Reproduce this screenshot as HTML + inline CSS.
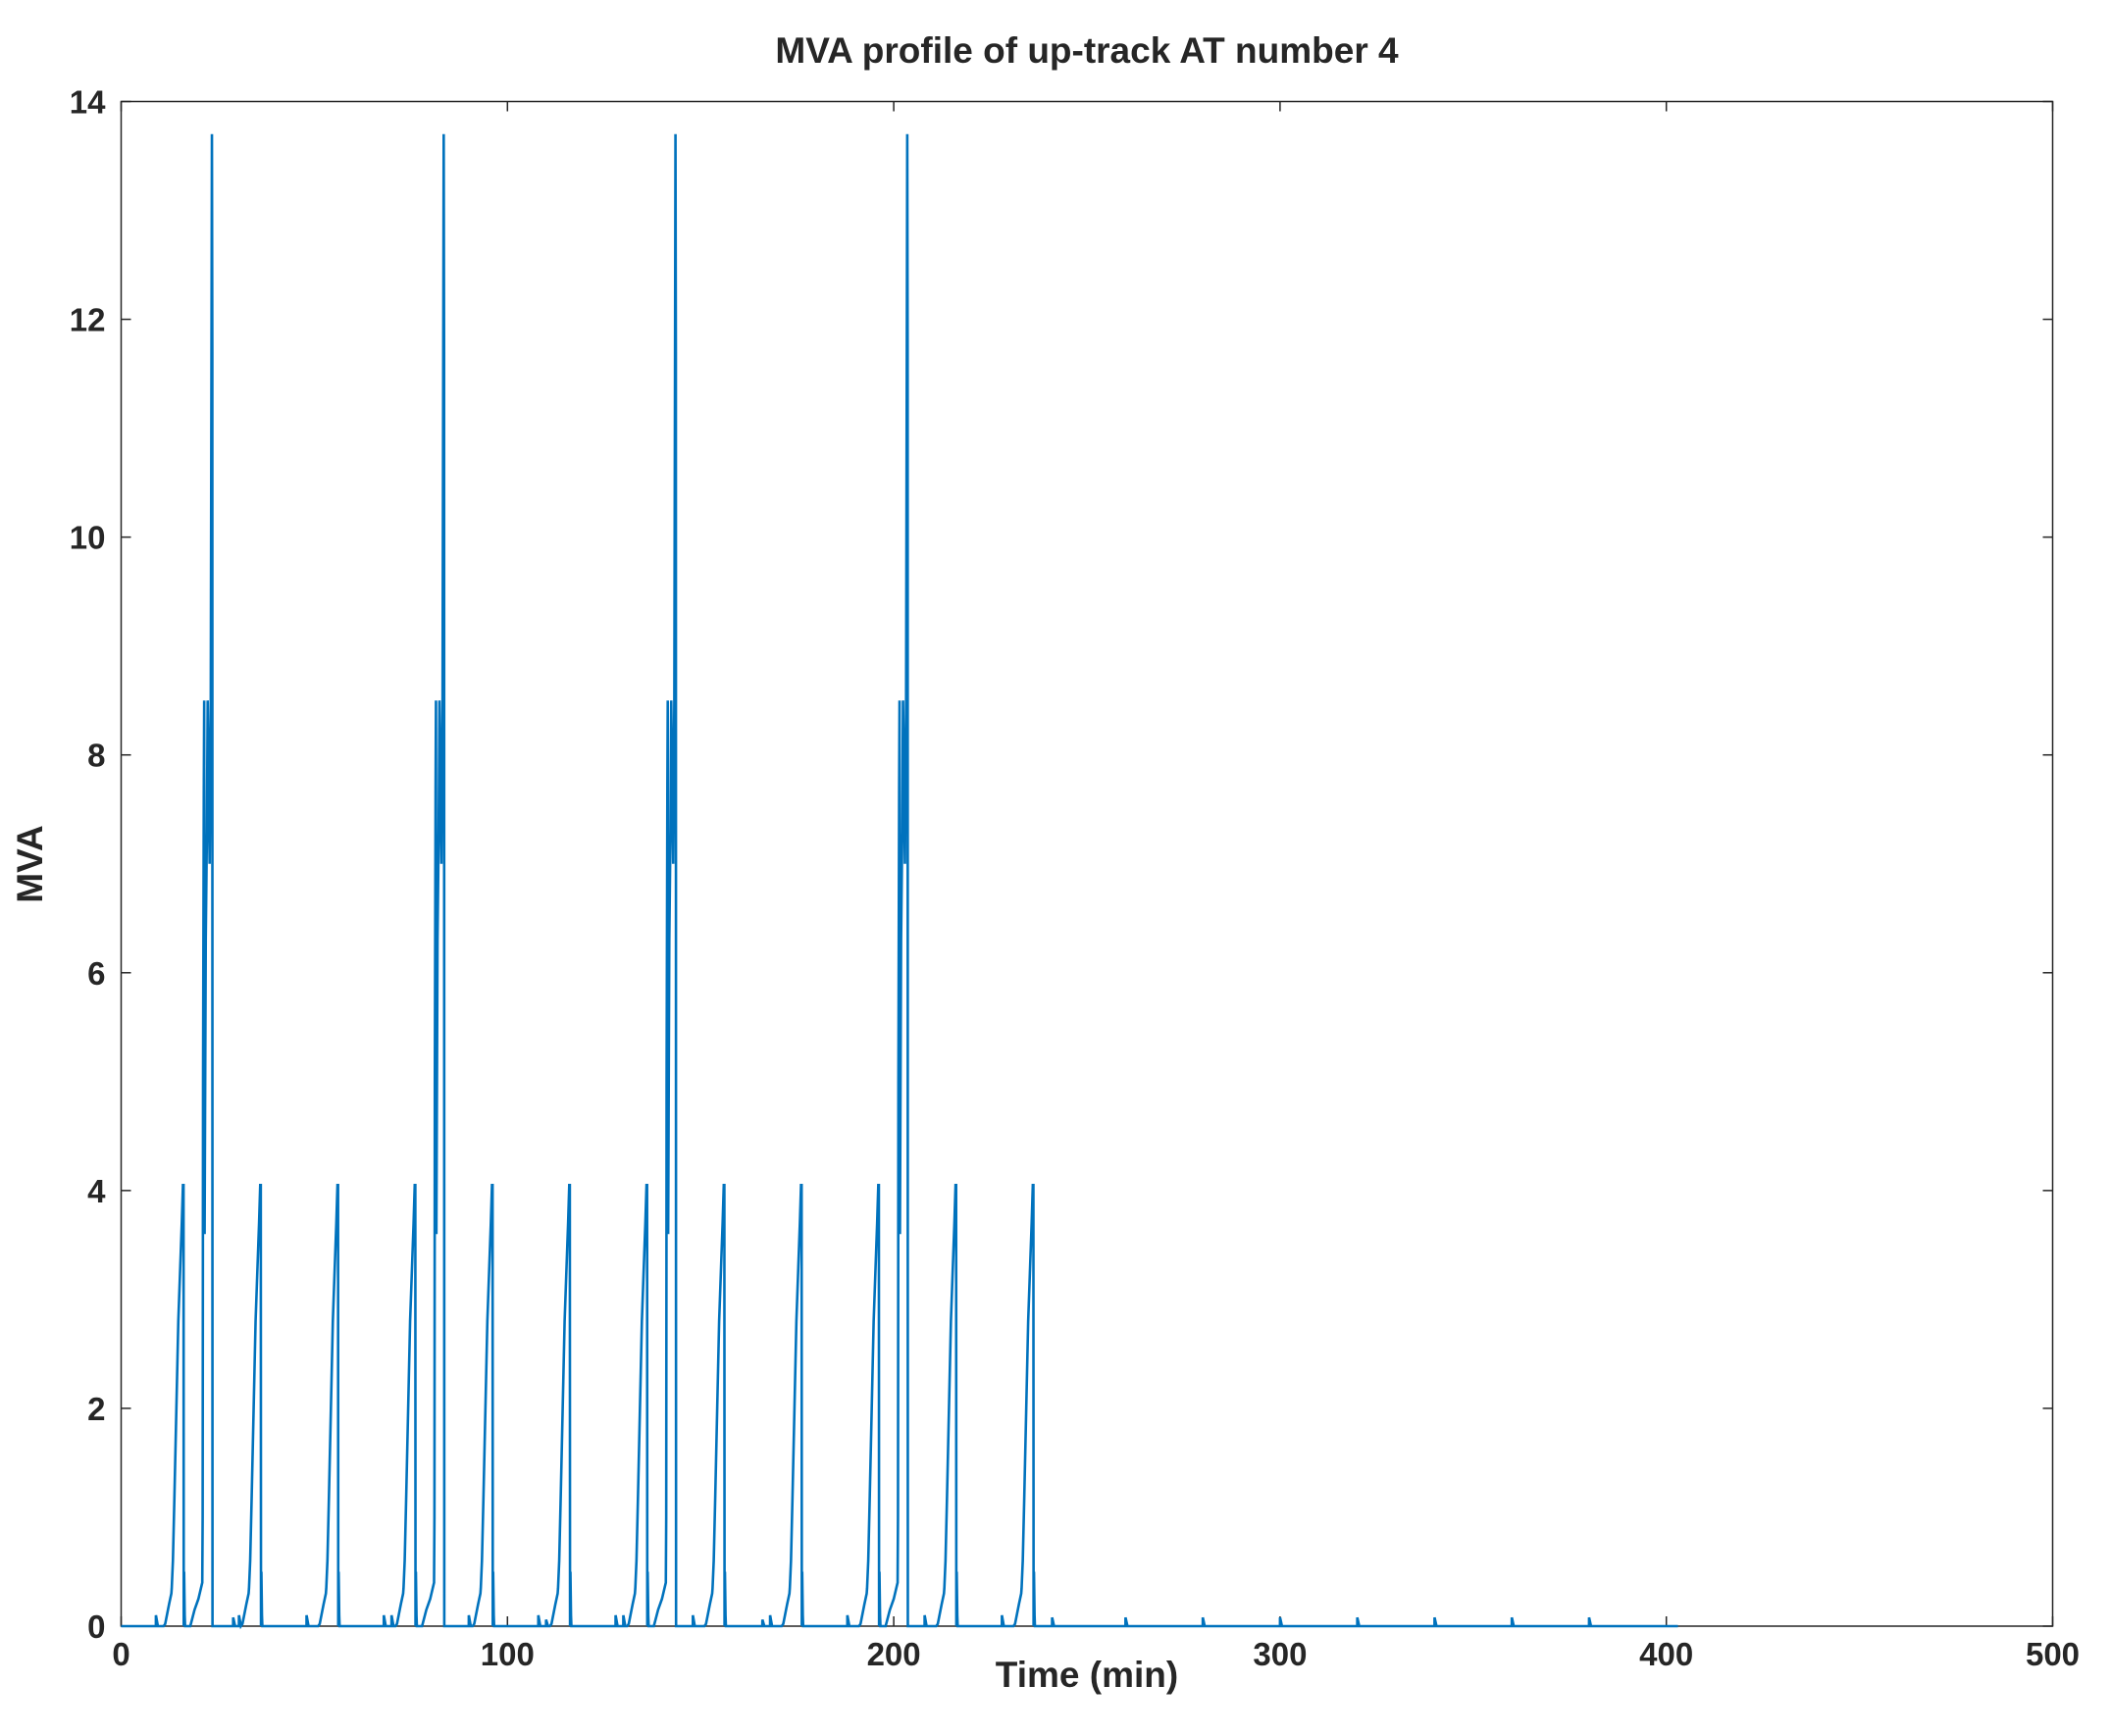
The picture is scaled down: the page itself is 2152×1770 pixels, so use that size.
<!DOCTYPE html>
<html><head><meta charset="utf-8"><style>
html,body{margin:0;padding:0;background:#fff;}
svg text{font-family:"Liberation Sans",Arial,sans-serif;font-weight:bold;fill:#262626;}
</style></head><body>
<svg id="chart" width="2152" height="1765" viewBox="0 0 2152 1765" xmlns="http://www.w3.org/2000/svg">
<rect width="2152" height="1765" fill="#fff"/>
<text x="1108" y="64" font-size="37" text-anchor="middle">MVA profile of up-track AT number 4</text>
<g id="axes"></g>
<g id="plot"></g>
<text x="1108" y="1720" font-size="37" text-anchor="middle">Time (min)</text>
<text transform="translate(43,881) rotate(-90)" font-size="37" text-anchor="middle">MVA</text>
</svg>
<script>
// ---- data ----
const xTicks = [0,100,200,300,400,500];
const yTicks = [0,2,4,6,8,10,12,14];
const rampPeakTimes = [16,36,56,76,96,116,136,156,176,196,216,236];
const rampPeakValues = [4.05,4.05,4.05,4.05,4.05,4.05,4.05,4.05,4.05,4.05,4.05,4.05];
const rampShapeDt = [-5,-4.6,-3.6,-3.0,-2.9,-2.6,-2.2,-1.7,-1.2,-0.7,-0.3,0,0.15,0.2,0.3,0.45,0.55];
const rampShapeV  = [0,0.02,0.2,0.3,0.35,0.6,1.2,2.0,2.8,3.3,3.7,4.05,4.05,0,0.5,0.1,0];
const bigPeakTimes = [23.5,83.5,143.5,203.5];
const bigPeakValues = [13.7,13.7,13.7,13.7];
const bigShapeDt = [-5.6,-4.5,-3.5,-2.5,-2.4,-2.3,-2.1,-2.0,-1.9,-1.6,-1.3,-1.1,-0.6,-0.3,0,0.1,0.15];
const bigShapeV  = [0,0.15,0.25,0.4,1.0,5.0,7.7,8.5,3.6,6.3,7.3,8.5,7.0,8.5,13.7,11.7,0];
const blipTimes = [9,29,30.5,48,68,70,90,108,110,128,130,148,166,168,188,208,228,241,260,280,300,320,340,360,380];
const blipValues = [0.1,0.08,0.1,0.1,0.1,0.1,0.1,0.1,0.06,0.1,0.1,0.1,0.06,0.1,0.1,0.1,0.1,0.08,0.08,0.08,0.08,0.08,0.08,0.08,0.08];
const seriesEnd = 403;

// ---- scales ----
const X0=123.5, X1=2092.5, Y0=1658, Y1=103.5;
const xs = v => X0 + (v/500)*(X1-X0);
const ys = v => Y0 - (v/14)*(Y0-Y1);
const NS="http://www.w3.org/2000/svg";
const axes=document.getElementById('axes'), plot=document.getElementById('plot');
function mk(tag, attrs, parent){const e=document.createElementNS(NS,tag);for(const k in attrs)e.setAttribute(k,attrs[k]);parent.appendChild(e);return e;}

let pts=[[0,0]];
rampPeakTimes.forEach((p,i)=>{const s=rampPeakValues[i]/4.05;rampShapeDt.forEach((d,j)=>pts.push([p+d,rampShapeV[j]*s]));});
bigPeakTimes.forEach((p,i)=>{const s=bigPeakValues[i]/13.7;bigShapeDt.forEach((d,j)=>pts.push([p+d,bigShapeV[j]*s]));});
blipTimes.forEach((t,i)=>{pts.push([t-0.01,0]);pts.push([t,blipValues[i]]);pts.push([t+0.5,0]);});
pts.push([seriesEnd,0]);
pts.sort((a,b)=>a[0]-b[0]);
const line=mk('polyline',{points:pts.map(p=>xs(p[0]).toFixed(2)+','+ys(p[1]).toFixed(2)).join(' '),fill:'none',stroke:'#0072BD','stroke-width':2.6,'stroke-linejoin':'miter'},plot);



const box=mk('rect',{x:X0,y:Y1,width:X1-X0,height:Y0-Y1,fill:'none',stroke:'#262626','stroke-width':1.5},axes);


xTicks.forEach(v=>{
  const x=xs(v);
  mk('line',{x1:x,y1:Y0,x2:x,y2:Y0-10,stroke:'#262626','stroke-width':1.5},axes);
  mk('line',{x1:x,y1:Y1,x2:x,y2:Y1+10,stroke:'#262626','stroke-width':1.5},axes);
  const t=mk('text',{x:x,y:Y0+40,'font-size':33,'text-anchor':'middle'},axes);
  t.textContent=v;
  
  
});
yTicks.forEach(v=>{
  const y=ys(v);
  mk('line',{x1:X0,y1:y,x2:X0+10,y2:y,stroke:'#262626','stroke-width':1.5},axes);
  mk('line',{x1:X1,y1:y,x2:X1-10,y2:y,stroke:'#262626','stroke-width':1.5},axes);
  const t=mk('text',{x:X0-16,y:y+12,'font-size':33,'text-anchor':'end'},axes);
  t.textContent=v;
  
  
});
</script>
</body></html>
